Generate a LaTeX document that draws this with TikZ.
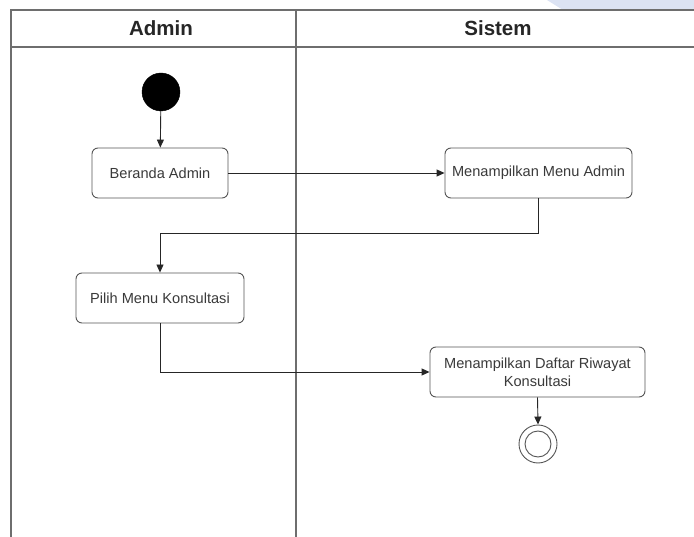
\documentclass[tikz,border=0pt]{standalone}
\usepackage{fontspec}
\setmainfont{Liberation Sans}
\usetikzlibrary{arrows.meta}
\definecolor{lineg}{HTML}{555555}
\definecolor{frameg}{HTML}{6E6E6E}
\definecolor{txtg}{HTML}{3A3A3A}
\definecolor{wmblue}{HTML}{DCE3F3}
\tikzset{
  actbox/.style={draw=lineg, line width=0.9pt, rounded corners=6pt, fill=white,
    inner sep=0pt, text=txtg, font=\fontsize{14.6}{18}\selectfont, align=center},
  flow/.style={draw=black!85, line width=0.9pt, -{Triangle[length=8pt,width=7pt]}},
  lanehead/.style={font=\fontsize{20.5}{24}\selectfont\bfseries, text=black!85},
  frame/.style={draw=frameg, line width=1.1pt}
}
\begin{document}
\begin{tikzpicture}[x=1pt,y=-1pt]
\useasboundingbox (0,0) rectangle (694,537);
\fill[white] (0,0) rectangle (694,537);
\fill[wmblue] (547,0) -- (694,0) -- (694,10) -- (563,10) -- cycle;
\begin{scope}
\clip (0,0) rectangle (694,537);
\draw[frame] (11,545) -- (11,10) -- (710,10);
\draw[frame] (11,47) -- (710,47);
\draw[frame] (296,10) -- (296,545);
\end{scope}
\node[lanehead] (hadmin) at (161,28) {Admin};
\node[lanehead] (hsistem) at (498,28) {Sistem};
% nodes
\node[circle, fill=black, draw=black, minimum size=38pt, inner sep=0pt] (start) at (161,92) {};
\node[actbox, minimum width=136pt, minimum height=50pt] (beranda) at (160,173) {Beranda Admin};
\node[actbox, minimum width=187pt, minimum height=50pt] (menuadmin) at (538.5,173) {Menampilkan Menu Admin};
\node[actbox, minimum width=168pt, minimum height=50pt] (pilih) at (160,298) {Pilih Menu Konsultasi};
\node[actbox, minimum width=215pt, minimum height=50pt] (daftar) at (537.5,372) {Menampilkan Daftar Riwayat\\Konsultasi};
\node[circle, draw=lineg, line width=0.9pt, minimum size=38pt, inner sep=0pt] (end) at (538,444) {};
\node[circle, draw=lineg, line width=0.9pt, minimum size=26pt, inner sep=0pt] (endin) at (end.center) {};
\coordinate (bend1) at (538.5,233);
% connectors
\draw[flow] (start) -- (beranda);
\draw[flow] (beranda.east) -- (menuadmin.west);
\draw[flow] (menuadmin.south) -- (bend1) -| (pilih.north);
\draw[flow] (pilih.south) |- (daftar.west);
\draw[flow] (daftar.south) -- (end.north);
\end{tikzpicture}
\end{document}
